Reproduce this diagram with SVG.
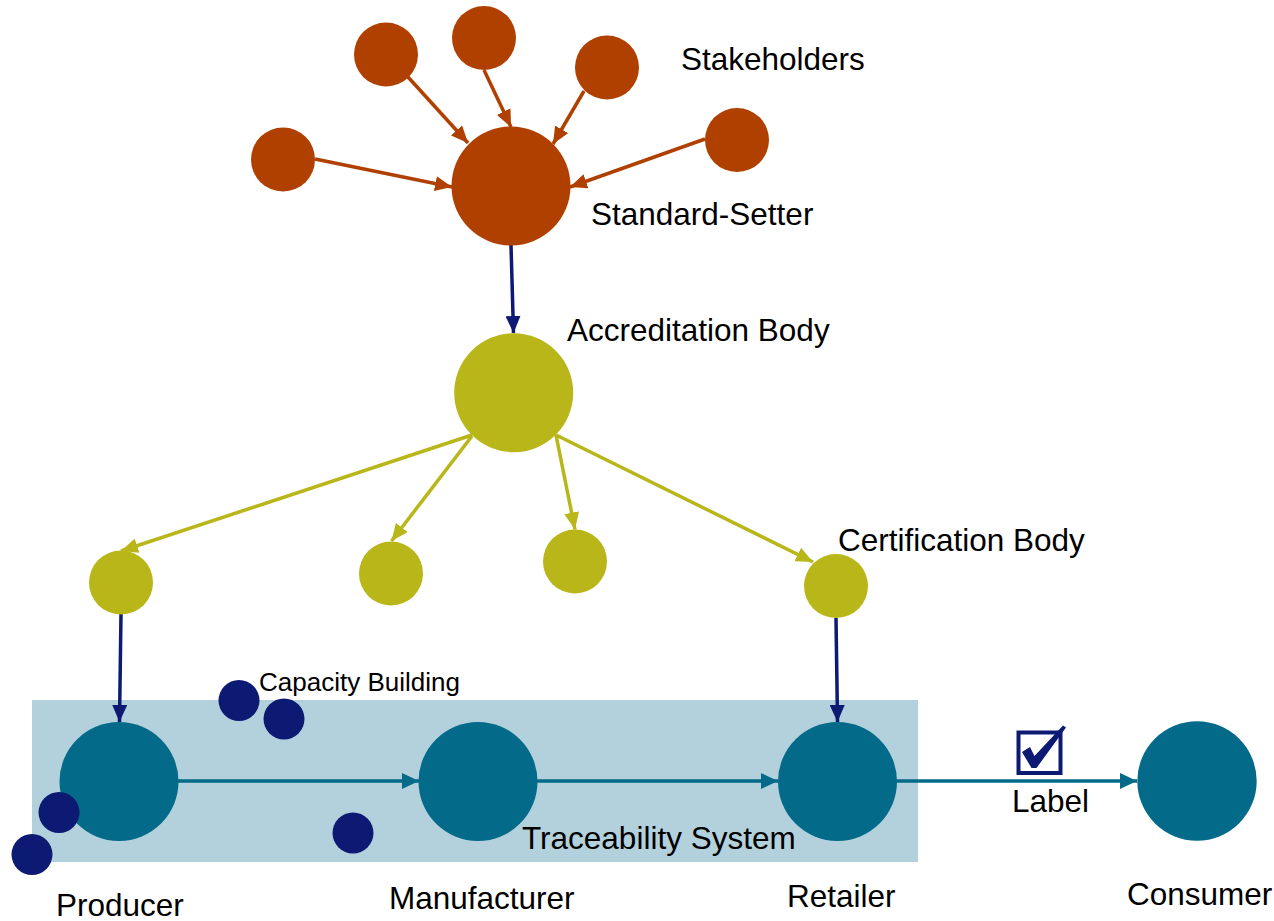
<svg xmlns="http://www.w3.org/2000/svg" width="1274" height="921" viewBox="0 0 1274 921">
<style>
text{font-family:"Liberation Sans",Arial,sans-serif;font-size:31.5px;fill:#000}
.small{font-size:26px}
.brown{fill:#B04000}
.olive{fill:#B8B618}
.teal{fill:#036A89}
.navy{fill:#0C1A73}
.lb{stroke:#B04000;stroke-width:3.5;fill:none}
.lo{stroke:#B8B618;stroke-width:3.5;fill:none}
.ln{stroke:#0C1A73;stroke-width:3.5;fill:none}
.lt{stroke:#036A89;stroke-width:3.5;fill:none}
</style>
<defs>
<marker id="ab" markerWidth="17" markerHeight="15" refX="17" refY="7.5" orient="auto" markerUnits="userSpaceOnUse"><path d="M0,0 L17,7.5 L0,15 Z" fill="#B04000"/></marker>
<marker id="ao" markerWidth="17" markerHeight="15" refX="17" refY="7.5" orient="auto" markerUnits="userSpaceOnUse"><path d="M0,0 L17,7.5 L0,15 Z" fill="#B8B618"/></marker>
<marker id="an" markerWidth="17" markerHeight="15" refX="17" refY="7.5" orient="auto" markerUnits="userSpaceOnUse"><path d="M0,0 L17,7.5 L0,15 Z" fill="#0C1A73"/></marker>
<marker id="at" markerWidth="17" markerHeight="16" refX="17" refY="8" orient="auto" markerUnits="userSpaceOnUse"><path d="M0,0 L17,8 L0,16 Z" fill="#036A89"/></marker>
</defs>
<rect id="traceability-system" x="32" y="700" width="886" height="162" fill="#B3D1DC"/>
<g id="connectors">
<line class="lb" x1="315" y1="159" x2="452" y2="187" marker-end="url(#ab)"/>
<line class="lb" x1="408" y1="77" x2="468" y2="143" marker-end="url(#ab)"/>
<line class="lb" x1="484" y1="70" x2="511" y2="127" marker-end="url(#ab)"/>
<line class="lb" x1="584" y1="91" x2="553" y2="144" marker-end="url(#ab)"/>
<line class="lb" x1="705" y1="139" x2="570" y2="187" marker-end="url(#ab)"/>
<line class="ln" x1="511" y1="245" x2="513.5" y2="333" marker-end="url(#an)"/>
<line class="lo" x1="472" y1="435" x2="121" y2="551" marker-end="url(#ao)"/>
<line class="lo" x1="472" y1="436" x2="391.5" y2="541" marker-end="url(#ao)"/>
<line class="lo" x1="556" y1="435" x2="575" y2="529.5" marker-end="url(#ao)"/>
<line class="lo" x1="556" y1="435" x2="813" y2="562" marker-end="url(#ao)"/>
<line class="ln" x1="121" y1="614" x2="119.5" y2="722" marker-end="url(#an)"/>
<line class="ln" x1="836" y1="618" x2="837.5" y2="722" marker-end="url(#an)"/>
<line class="lt" x1="178" y1="781" x2="419" y2="781" marker-end="url(#at)"/>
<line class="lt" x1="537" y1="781" x2="778" y2="781" marker-end="url(#at)"/>
<line class="lt" x1="896" y1="781" x2="1137" y2="781" marker-end="url(#at)"/>
</g>
<g id="stakeholders">
<circle class="brown" cx="283" cy="159.5" r="32"/>
<circle class="brown" cx="386" cy="54.5" r="32"/>
<circle class="brown" cx="484" cy="38" r="32"/>
<circle class="brown" cx="607" cy="67.5" r="32"/>
<circle class="brown" cx="737" cy="140" r="32"/>
<text x="681" y="70">Stakeholders</text>
</g>
<g id="standard-setter">
<circle class="brown" cx="511" cy="186" r="59.5"/>
<text x="591" y="225">Standard-Setter</text>
</g>
<g id="accreditation-body">
<circle class="olive" cx="513.7" cy="392.7" r="59.5"/>
<text x="567" y="341">Accreditation Body</text>
</g>
<g id="certification-bodies">
<circle class="olive" cx="121" cy="582.5" r="32"/>
<circle class="olive" cx="391" cy="573.5" r="32"/>
<circle class="olive" cx="575" cy="561.5" r="32"/>
<circle class="olive" cx="836" cy="586" r="32"/>
<text x="838" y="551">Certification Body</text>
</g>
<g id="producer">
<circle class="teal" cx="119" cy="781.5" r="59.5"/>
<text x="56" y="916">Producer</text>
</g>
<g id="manufacturer">
<circle class="teal" cx="478" cy="781.5" r="59.5"/>
<text x="389" y="909">Manufacturer</text>
</g>
<g id="retailer">
<circle class="teal" cx="837.5" cy="781.5" r="59.5"/>
<text x="787" y="907">Retailer</text>
</g>
<g id="consumer">
<circle class="teal" cx="1197" cy="781" r="59.7"/>
<text x="1127" y="905">Consumer</text>
</g>
<g id="capacity-building">
<circle class="navy" cx="239" cy="700.5" r="20.5"/>
<circle class="navy" cx="284" cy="719" r="20.5"/>
<circle class="navy" cx="59" cy="812.5" r="20.5"/>
<circle class="navy" cx="32" cy="854.5" r="20.5"/>
<circle class="navy" cx="353" cy="833" r="20.5"/>
<text class="small" x="259" y="691">Capacity Building</text>
</g>
<g id="traceability-label">
<text x="522" y="849">Traceability System</text>
</g>
<g id="label">
<rect x="1018.5" y="732.5" width="42" height="40.5" fill="none" stroke="#0C1A73" stroke-width="4"/>
<path d="M1022,752 L1030,747 L1034.5,756 L1063,725.5 L1066,727.5 L1036.5,768 L1031.5,768 Z" fill="#0C1A73"/>
<text x="1012" y="811.5">Label</text>
</g>
</svg>
